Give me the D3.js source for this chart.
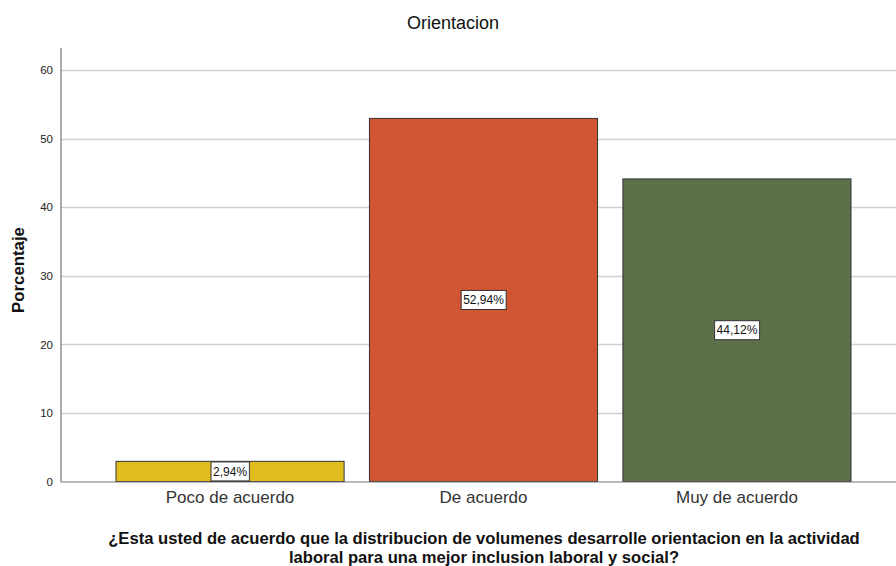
<!DOCTYPE html>
<html><head><meta charset="utf-8">
<script src="https://cdn.jsdelivr.net/npm/d3@7"></script>
<style>
body{margin:0;background:#fff;}
text{font-family:Arial,"Liberation Sans",sans-serif;}
</style></head>
<body><svg id="c" width="896" height="566"></svg>
<script>
const categories = ["Poco de acuerdo","De acuerdo","Muy de acuerdo"];
const values = [2.94, 52.94, 44.12];
const labels = ["2,94%","52,94%","44,12%"];
const colors = ["#E0BC1F","#D15433","#5C7049"];
const yTicks = [0,10,20,30,40,50,60];
const xTitleLines = ["¿Esta usted de acuerdo que la distribucion de volumenes desarrolle orientacion en la actividad","laboral para una mejor inclusion laboral y social?"];

const svg = d3.select("#c");
const x = d3.scaleBand().domain(categories).range([61,906]).paddingInner(0.1).paddingOuter(0.217);
const y = d3.scaleLinear().domain([0,60]).range([481.5,70]);

// gridlines
svg.append("g").selectAll("line").data(yTicks.slice(1)).join("line")
  .attr("x1",61).attr("x2",896).attr("y1",d=>Math.round(y(d))+0.5).attr("y2",d=>Math.round(y(d))+0.5)
  .attr("stroke","#d0d0d0").attr("stroke-width",1.5);

// bars
svg.append("g").selectAll("rect").data(values).join("rect")
  .attr("x",(d,i)=>x(categories[i])).attr("width",x.bandwidth())
  .attr("y",d=>y(d)).attr("height",d=>y(0)-y(d))
  .attr("fill",(d,i)=>colors[i]).attr("stroke","#333").attr("stroke-width",1);

// axes
const ya = d3.axisLeft(y).tickValues(yTicks).tickSize(0).tickPadding(8);
const gy = svg.append("g").attr("transform","translate(61,0)").call(ya);
gy.select(".domain").remove();
gy.selectAll("text").attr("font-size",11.5).attr("fill","#222");
svg.append("line").attr("x1",61).attr("x2",61).attr("y1",48).attr("y2",482).attr("stroke","#777").attr("stroke-width",1.2);
svg.append("line").attr("x1",61).attr("x2",896).attr("y1",482).attr("y2",482).attr("stroke","#777").attr("stroke-width",1.2);

const xa = d3.axisBottom(x).tickSize(0).tickPadding(9);
const gx = svg.append("g").attr("transform","translate(0,482)").call(xa);
gx.select(".domain").remove();
gx.selectAll("text").attr("font-size",17).attr("fill","#333");

// value labels
const lg = svg.append("g").selectAll("g").data(values).join("g")
  .attr("transform",(d,i)=>`translate(${x(categories[i])+x.bandwidth()/2},${y(d/2)})`);
lg.append("text").text((d,i)=>labels[i]).attr("text-anchor","middle").attr("dy","0.35em")
  .attr("font-size",12).attr("fill","#111");
lg.each(function(){
  const g=d3.select(this); const t=g.select("text").node().getBBox();
  g.insert("rect","text").attr("x",t.x-2).attr("y",-9.5).attr("width",t.width+4).attr("height",19)
   .attr("fill","#fff").attr("stroke","#333").attr("stroke-width",1);
});

// titles
svg.append("text").attr("x",453).attr("y",29).attr("text-anchor","middle").attr("font-size",18).attr("fill","#111").text("Orientacion");
svg.append("text").attr("transform","translate(24,270) rotate(-90)").attr("text-anchor","middle").attr("font-size",16.8).attr("font-weight","bold").attr("fill","#111").text("Porcentaje");
svg.append("g").selectAll("text").data(xTitleLines).join("text")
  .attr("text-anchor","middle").attr("font-size",16.6).attr("font-weight","bold").attr("fill","#111")
  .attr("x",484).attr("y",(d,i)=>543.5+i*19.5).text(d=>d);
</script></body></html>
